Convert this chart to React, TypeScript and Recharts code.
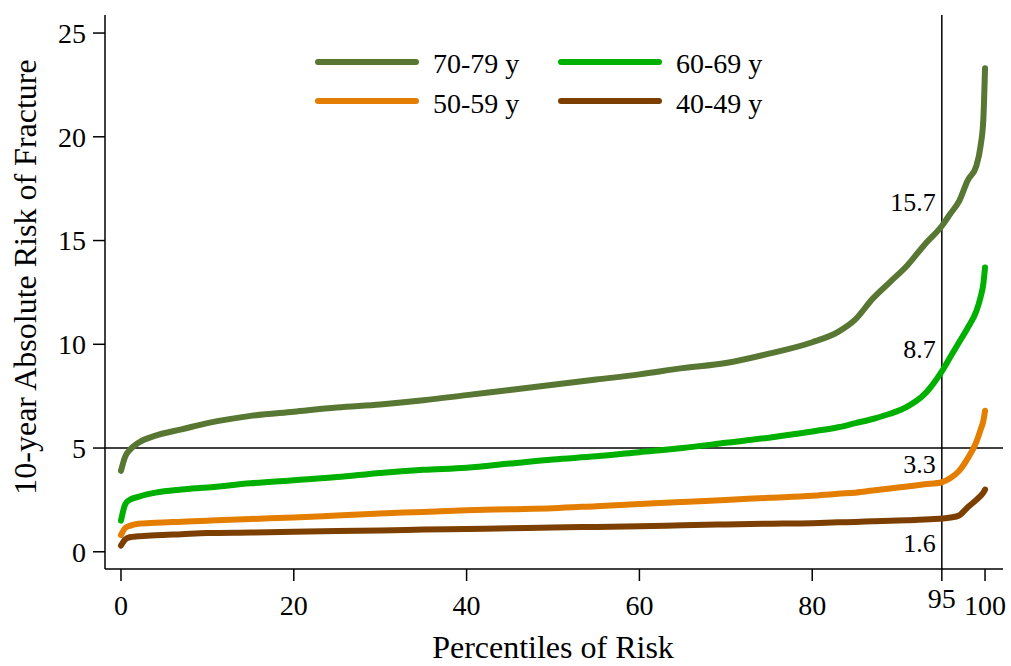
import React from "react";
import {
  LineChart,
  Line,
  XAxis,
  YAxis,
  ReferenceLine,
  ReferenceDot,
} from "recharts";

// percentile of risk (x) and 10-year absolute fracture risk by age group
const percentiles = [
  0, 0.5, 1, 2, 4, 7, 10, 15, 20, 25, 30, 35, 40, 45, 50, 55, 60, 65, 70, 75,
  80, 83, 85, 87, 89, 91, 93, 95, 96, 97, 98, 99, 99.5, 99.8, 100,
];
const risk7079 = [
  3.9, 4.6, 4.9, 5.25, 5.6, 5.9, 6.2, 6.55, 6.75, 6.95, 7.1, 7.3, 7.55, 7.8,
  8.05, 8.3, 8.55, 8.85, 9.1, 9.55, 10.1, 10.6, 11.2, 12.2, 13.0, 13.8, 14.8,
  15.7, 16.3, 16.9, 17.9, 18.6, 19.6, 20.8, 23.3,
];
const risk6069 = [
  1.5, 2.3, 2.5, 2.65, 2.85, 3.0, 3.1, 3.3, 3.45, 3.6, 3.8, 3.95, 4.05, 4.25,
  4.45, 4.6, 4.8, 5.0, 5.25, 5.5, 5.8, 6.0, 6.2, 6.4, 6.65, 7.0, 7.6, 8.7, 9.4,
  10.1, 10.8, 11.6, 12.3, 12.9, 13.7,
];
const risk5059 = [
  0.8, 1.15, 1.25, 1.35, 1.4, 1.45, 1.5, 1.58, 1.65, 1.75, 1.85, 1.92, 2.0,
  2.05, 2.1, 2.2, 2.3, 2.4, 2.5, 2.6, 2.7, 2.8, 2.85, 2.95, 3.05, 3.15, 3.25,
  3.35, 3.55, 3.9, 4.5, 5.3, 5.9, 6.3, 6.8,
];
const risk4049 = [
  0.3, 0.6, 0.7, 0.75, 0.8, 0.85, 0.9, 0.93, 0.97, 1.0, 1.03, 1.07, 1.1, 1.13,
  1.17, 1.2, 1.23, 1.28, 1.32, 1.35, 1.38, 1.42, 1.44, 1.47, 1.5, 1.52, 1.56,
  1.6, 1.65, 1.75, 2.15, 2.5, 2.7, 2.85, 3.0,
];

const seriesKeys = ["r7079", "r6069", "r5059", "r4049"];
const seriesNames = ["70-79 y", "60-69 y", "50-59 y", "40-49 y"];
const seriesColors = ["#577732", "#00b000", "#e47e00", "#7c3f00"];

const xTicks = [0, 20, 40, 60, 80, 95, 100];
const yTicks = [0, 5, 10, 15, 20, 25];

// labels at the 95th percentile
const annotationText = ["15.7", "8.7", "3.3", "1.6"];
const annotationY = [16.85, 9.8, 4.23, 0.42];

const data = percentiles.map((p, i) => ({
  p,
  r7079: risk7079[i],
  r6069: risk6069[i],
  r5059: risk5059[i],
  r4049: risk4049[i],
}));

const FONT = "'Liberation Serif', 'Times New Roman', serif";

const XTick = ({ x, y, payload }: any) => {
  const up = payload.value === 95 ? 7 : 0;
  return (
    <text
      x={x}
      y={y + 34 - up}
      textAnchor="middle"
      fontFamily={FONT}
      fontSize={28}
      fill="#000"
    >
      {payload.value}
    </text>
  );
};

const legendPos = [
  { lx: 315, tx: 433, ly: 62, ty: 73 },
  { lx: 558, tx: 676, ly: 62, ty: 73 },
  { lx: 315, tx: 433, ly: 101, ty: 113 },
  { lx: 558, tx: 676, ly: 101, ty: 113 },
];

export default function App() {
  return (
    <div
      style={{
        position: "fixed",
        left: 0,
        top: 0,
        width: 1011,
        height: 666,
        background: "#fff",
        fontFamily: FONT,
      }}
    >
      <LineChart
        width={1011}
        height={666}
        data={data}
        margin={{ top: 15, right: 8, left: 0, bottom: 0 }}
      >
        <XAxis
          dataKey="p"
          type="number"
          domain={[-1.85, 102.08]}
          ticks={xTicks}
          interval={0}
          allowDataOverflow
          height={97}
          tickSize={12}
          tickMargin={0}
          stroke="#000"
          strokeWidth={1.5}
          tick={<XTick />}
        />
        <YAxis
          type="number"
          domain={[-0.83, 25.87]}
          ticks={yTicks}
          interval={0}
          allowDataOverflow
          width={105}
          tickSize={12}
          tickMargin={7}
          stroke="#000"
          strokeWidth={1.5}
          tick={{ fill: "#000", fontSize: 28, fontFamily: FONT }}
        />
        <ReferenceLine y={5} stroke="#000" strokeWidth={1.5} />
        <ReferenceLine x={95} stroke="#000" strokeWidth={1.5} />
        {seriesKeys.map((k, i) => (
          <Line
            key={k}
            dataKey={k}
            name={seriesNames[i]}
            type="monotone"
            stroke={seriesColors[i]}
            strokeWidth={6}
            strokeLinecap="round"
            strokeLinejoin="round"
            dot={false}
            activeDot={false}
            isAnimationActive={false}
          />
        ))}
        {annotationText.map((t, i) => (
          <ReferenceDot
            key={t}
            x={95}
            y={annotationY[i]}
            r={0}
            fill="none"
            stroke="none"
            label={{
              value: t,
              position: "left",
              offset: 6,
              fill: "#000",
              fontSize: 26,
              fontFamily: FONT,
            }}
          />
        ))}
      </LineChart>
      <svg
        width={1011}
        height={666}
        style={{ position: "absolute", left: 0, top: 0, pointerEvents: "none" }}
      >
        {seriesNames.map((n, i) => (
          <g key={n}>
            <line
              x1={legendPos[i].lx + 3}
              x2={legendPos[i].lx + 101}
              y1={legendPos[i].ly}
              y2={legendPos[i].ly}
              stroke={seriesColors[i]}
              strokeWidth={6}
              strokeLinecap="round"
            />
            <text
              x={legendPos[i].tx}
              y={legendPos[i].ty}
              fontFamily={FONT}
              fontSize={28}
              fill="#000"
            >
              {n}
            </text>
          </g>
        ))}
        <text
          transform="translate(36,277) rotate(-90)"
          textAnchor="middle"
          fontFamily={FONT}
          fontSize={32}
          fill="#000"
        >
          10-year Absolute Risk of Fracture
        </text>
        <text
          x={553}
          y={658}
          textAnchor="middle"
          fontFamily={FONT}
          fontSize={32}
          fill="#000"
        >
          Percentiles of Risk
        </text>
      </svg>
    </div>
  );
}
